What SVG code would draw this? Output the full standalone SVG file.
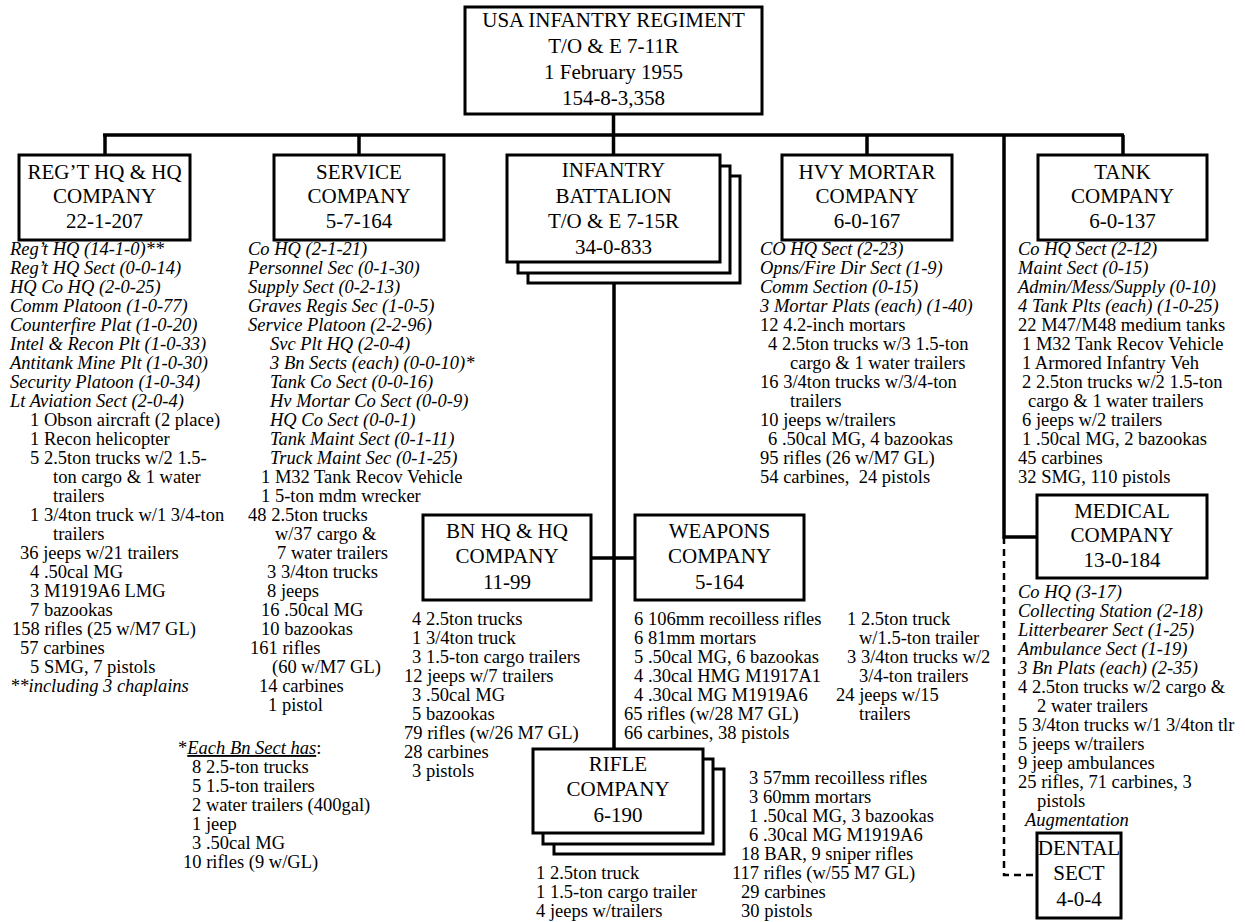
<svg xmlns="http://www.w3.org/2000/svg" width="1245" height="922" viewBox="0 0 1245 922">
<style>
.box{fill:#fff;stroke:#000;stroke-width:3}
.t{font-family:"Liberation Serif","Times New Roman",serif;font-size:21px;text-anchor:middle;fill:#000}
.l{font-family:"Liberation Serif","Times New Roman",serif;font-size:18.5px;fill:#000}
.i{font-style:italic}
.c{stroke:#000;stroke-width:3.5;fill:none}
.d{stroke:#000;stroke-width:2.5;fill:none;stroke-dasharray:7 5}
</style>
<rect width="1245" height="922" fill="#fff"/>
<g id="connectors">
<path class="c" d="M613.5,114V155M103,135H1124M105,135V155M359,135V155M867,135V155M1123,135V155M1004,135V537H1037M614,283V749M591,558H635"/>
<path class="d" d="M1004,537V875H1037"/>
</g>
<g id="regiment">
<rect class="box" x="465" y="7" width="297" height="107"/>
<text class="t" x="613.5" y="27">USA INFANTRY REGIMENT</text>
<text class="t" x="613.5" y="53">T/O &amp; E 7-11R</text>
<text class="t" x="613.5" y="79">1 February 1955</text>
<text class="t" x="613.5" y="105">154-8-3,358</text>
</g>
<g id="hq-company">
<rect class="box" x="19" y="155" width="171" height="85"/>
<text class="t" x="104.5" y="179">REG’T HQ &amp; HQ</text>
<text class="t" x="104.5" y="203">COMPANY</text>
<text class="t" x="104.5" y="228">22-1-207</text>
<text class="l i" x="10" y="255">Reg’t HQ (14-1-0)**</text>
<text class="l i" x="10" y="274">Reg’t HQ Sect (0-0-14)</text>
<text class="l i" x="10" y="293">HQ Co HQ (2-0-25)</text>
<text class="l i" x="10" y="312">Comm Platoon (1-0-77)</text>
<text class="l i" x="10" y="331">Counterfire Plat (1-0-20)</text>
<text class="l i" x="10" y="350">Intel &amp; Recon Plt (1-0-33)</text>
<text class="l i" x="10" y="369">Antitank Mine Plt (1-0-30)</text>
<text class="l i" x="10" y="388">Security Platoon (1-0-34)</text>
<text class="l i" x="10" y="407">Lt Aviation Sect (2-0-4)</text>
<text class="l" x="30" y="426">1 Obson aircraft (2 place)</text>
<text class="l" x="30" y="445">1 Recon helicopter</text>
<text class="l" x="30" y="464">5 2.5ton trucks w/2 1.5-</text>
<text class="l" x="53" y="483">ton cargo &amp; 1 water</text>
<text class="l" x="53" y="502">trailers</text>
<text class="l" x="30" y="521">1 3/4ton truck w/1 3/4-ton</text>
<text class="l" x="53" y="540">trailers</text>
<text class="l" x="20" y="559">36 jeeps w/21 trailers</text>
<text class="l" x="30" y="578">4 .50cal MG</text>
<text class="l" x="30" y="597">3 M1919A6 LMG</text>
<text class="l" x="30" y="616">7 bazookas</text>
<text class="l" x="12" y="635">158 rifles (25 w/M7 GL)</text>
<text class="l" x="20" y="654">57 carbines</text>
<text class="l" x="30" y="673">5 SMG, 7 pistols</text>
<text class="l i" x="10" y="692">**including 3 chaplains</text>
</g>
<g id="service-company">
<rect class="box" x="274" y="155" width="170" height="85"/>
<text class="t" x="359" y="179">SERVICE</text>
<text class="t" x="359" y="203">COMPANY</text>
<text class="t" x="359" y="228">5-7-164</text>
<text class="l i" x="248" y="255">Co HQ (2-1-21)</text>
<text class="l i" x="248" y="274">Personnel Sec (0-1-30)</text>
<text class="l i" x="248" y="293">Supply Sect (0-2-13)</text>
<text class="l i" x="248" y="312">Graves Regis Sec (1-0-5)</text>
<text class="l i" x="248" y="331">Service Platoon (2-2-96)</text>
<text class="l i" x="270" y="350">Svc Plt HQ (2-0-4)</text>
<text class="l i" x="270" y="369">3 Bn Sects (each) (0-0-10)*</text>
<text class="l i" x="270" y="388">Tank Co Sect (0-0-16)</text>
<text class="l i" x="270" y="407">Hv Mortar Co Sect (0-0-9)</text>
<text class="l i" x="270" y="426">HQ Co Sect (0-0-1)</text>
<text class="l i" x="270" y="445">Tank Maint Sect (0-1-11)</text>
<text class="l i" x="270" y="464">Truck Maint Sec (0-1-25)</text>
<text class="l" x="261" y="483">1 M32 Tank Recov Vehicle</text>
<text class="l" x="261" y="502">1 5-ton mdm wrecker</text>
<text class="l" x="248" y="521">48 2.5ton trucks</text>
<text class="l" x="275" y="540">w/37 cargo &amp;</text>
<text class="l" x="277" y="559">7 water trailers</text>
<text class="l" x="267" y="578">3 3/4ton trucks</text>
<text class="l" x="267" y="597">8 jeeps</text>
<text class="l" x="261" y="616">16 .50cal MG</text>
<text class="l" x="261" y="635">10 bazookas</text>
<text class="l" x="250" y="654">161 rifles</text>
<text class="l" x="272" y="673">(60 w/M7 GL)</text>
<text class="l" x="259" y="692">14 carbines</text>
<text class="l" x="268" y="711">1 pistol</text>
</g>
<g id="bn-sect-note">
<text class="l" x="178" y="754">*<tspan class="i" text-decoration="underline">Each Bn Sect has</tspan>:</text>
<text class="l" x="192" y="773">8 2.5-ton trucks</text>
<text class="l" x="192" y="792">5 1.5-ton trailers</text>
<text class="l" x="192" y="811">2 water trailers (400gal)</text>
<text class="l" x="192" y="830">1 jeep</text>
<text class="l" x="192" y="849">3 .50cal MG</text>
<text class="l" x="183" y="868">10 rifles (9 w/GL)</text>
</g>
<g id="infantry-battalion">
<rect class="box" x="528" y="176" width="212" height="107"/>
<rect class="box" x="518" y="166" width="212" height="107"/>
<rect class="box" x="507" y="155" width="213" height="107"/>
<text class="t" x="613.5" y="177">INFANTRY</text>
<text class="t" x="613.5" y="203">BATTALION</text>
<text class="t" x="613.5" y="228">T/O &amp; E 7-15R</text>
<text class="t" x="613.5" y="254">34-0-833</text>
</g>
<g id="hvy-mortar-company">
<rect class="box" x="782" y="155" width="170" height="85"/>
<text class="t" x="867" y="179">HVY MORTAR</text>
<text class="t" x="867" y="203">COMPANY</text>
<text class="t" x="867" y="228">6-0-167</text>
<text class="l i" x="760" y="255">CO HQ Sect (2-23)</text>
<text class="l i" x="760" y="274">Opns/Fire Dir Sect (1-9)</text>
<text class="l i" x="760" y="293">Comm Section (0-15)</text>
<text class="l i" x="760" y="312">3 Mortar Plats (each) (1-40)</text>
<text class="l" x="760" y="331">12 4.2-inch mortars</text>
<text class="l" x="768" y="350">4 2.5ton trucks w/3 1.5-ton</text>
<text class="l" x="790" y="369">cargo &amp; 1 water trailers</text>
<text class="l" x="760" y="388">16 3/4ton trucks w/3/4-ton</text>
<text class="l" x="790" y="407">trailers</text>
<text class="l" x="760" y="426">10 jeeps w/trailers</text>
<text class="l" x="768" y="445">6 .50cal MG, 4 bazookas</text>
<text class="l" x="760" y="464">95 rifles (26 w/M7 GL)</text>
<text class="l" x="760" y="483" xml:space="preserve">54 carbines,  24 pistols</text>
</g>
<g id="tank-company">
<rect class="box" x="1038" y="155" width="169" height="85"/>
<text class="t" x="1122.5" y="179">TANK</text>
<text class="t" x="1122.5" y="203">COMPANY</text>
<text class="t" x="1122.5" y="228">6-0-137</text>
<text class="l i" x="1018" y="255">Co HQ Sect (2-12)</text>
<text class="l i" x="1018" y="274">Maint Sect (0-15)</text>
<text class="l i" x="1018" y="293">Admin/Mess/Supply (0-10)</text>
<text class="l i" x="1018" y="312">4 Tank Plts (each) (1-0-25)</text>
<text class="l" x="1018" y="331">22 M47/M48 medium tanks</text>
<text class="l" x="1022" y="350">1 M32 Tank Recov Vehicle</text>
<text class="l" x="1022" y="369">1 Armored Infantry Veh</text>
<text class="l" x="1022" y="388">2 2.5ton trucks w/2 1.5-ton</text>
<text class="l" x="1028" y="407">cargo &amp; 1 water trailers</text>
<text class="l" x="1022" y="426">6 jeeps w/2 trailers</text>
<text class="l" x="1022" y="445">1 .50cal MG, 2 bazookas</text>
<text class="l" x="1018" y="464">45 carbines</text>
<text class="l" x="1018" y="483">32 SMG, 110 pistols</text>
</g>
<g id="medical-company">
<rect class="box" x="1037" y="495" width="170" height="83"/>
<text class="t" x="1122" y="518">MEDICAL</text>
<text class="t" x="1122" y="542">COMPANY</text>
<text class="t" x="1122" y="567">13-0-184</text>
<text class="l i" x="1018" y="598">Co HQ (3-17)</text>
<text class="l i" x="1018" y="617">Collecting Station (2-18)</text>
<text class="l i" x="1018" y="636">Litterbearer Sect (1-25)</text>
<text class="l i" x="1018" y="655">Ambulance Sect (1-19)</text>
<text class="l i" x="1018" y="674">3 Bn Plats (each) (2-35)</text>
<text class="l" x="1018" y="693">4 2.5ton trucks w/2 cargo &amp;</text>
<text class="l" x="1037" y="712">2 water trailers</text>
<text class="l" x="1018" y="731">5 3/4ton trucks w/1 3/4ton tlr</text>
<text class="l" x="1018" y="750">5 jeeps w/trailers</text>
<text class="l" x="1018" y="769">9 jeep ambulances</text>
<text class="l" x="1018" y="788">25 rifles, 71 carbines, 3</text>
<text class="l" x="1037" y="807">pistols</text>
<text class="l i" x="1025" y="826">Augmentation</text>
</g>
<g id="dental-sect">
<rect class="box" x="1037" y="833" width="84" height="85"/>
<text class="t" x="1079" y="855">DENTAL</text>
<text class="t" x="1079" y="880">SECT</text>
<text class="t" x="1079" y="906">4-0-4</text>
</g>
<g id="bn-hq-company">
<rect class="box" x="423" y="515" width="168" height="85"/>
<text class="t" x="507" y="538">BN HQ &amp; HQ</text>
<text class="t" x="507" y="563">COMPANY</text>
<text class="t" x="507" y="589">11-99</text>
<text class="l" x="412" y="625">4 2.5ton trucks</text>
<text class="l" x="412" y="644">1 3/4ton truck</text>
<text class="l" x="412" y="663">3 1.5-ton cargo trailers</text>
<text class="l" x="404" y="682">12 jeeps w/7 trailers</text>
<text class="l" x="412" y="701">3 .50cal MG</text>
<text class="l" x="412" y="720">5 bazookas</text>
<text class="l" x="404" y="739">79 rifles (w/26 M7 GL)</text>
<text class="l" x="404" y="758">28 carbines</text>
<text class="l" x="412" y="777">3 pistols</text>
</g>
<g id="weapons-company">
<rect class="box" x="635" y="515" width="169" height="85"/>
<text class="t" x="719.5" y="538">WEAPONS</text>
<text class="t" x="719.5" y="563">COMPANY</text>
<text class="t" x="719.5" y="589">5-164</text>
<text class="l" x="634" y="625">6 106mm recoilless rifles</text>
<text class="l" x="634" y="644">6 81mm mortars</text>
<text class="l" x="634" y="663">5 .50cal MG, 6 bazookas</text>
<text class="l" x="634" y="682">4 .30cal HMG M1917A1</text>
<text class="l" x="634" y="701">4 .30cal MG M1919A6</text>
<text class="l" x="624" y="720">65 rifles (w/28 M7 GL)</text>
<text class="l" x="624" y="739">66 carbines, 38 pistols</text>
<text class="l" x="847" y="625">1 2.5ton truck</text>
<text class="l" x="859" y="644">w/1.5-ton trailer</text>
<text class="l" x="847" y="663">3 3/4ton trucks w/2</text>
<text class="l" x="859" y="682">3/4-ton trailers</text>
<text class="l" x="836" y="701">24 jeeps w/15</text>
<text class="l" x="859" y="720">trailers</text>
</g>
<g id="rifle-company">
<rect class="box" x="554" y="769" width="170" height="85"/>
<rect class="box" x="543" y="759" width="170" height="85"/>
<rect class="box" x="533" y="749" width="170" height="84"/>
<text class="t" x="618" y="771">RIFLE</text>
<text class="t" x="618" y="796">COMPANY</text>
<text class="t" x="618" y="822">6-190</text>
<text class="l" x="749" y="784">3 57mm recoilless rifles</text>
<text class="l" x="749" y="803">3 60mm mortars</text>
<text class="l" x="749" y="822">1 .50cal MG, 3 bazookas</text>
<text class="l" x="749" y="841">6 .30cal MG M1919A6</text>
<text class="l" x="741" y="860">18 BAR, 9 sniper rifles</text>
<text class="l" x="732" y="879">117 rifles (w/55 M7 GL)</text>
<text class="l" x="741" y="898">29 carbines</text>
<text class="l" x="741" y="917">30 pistols</text>
<text class="l" x="536" y="879">1 2.5ton truck</text>
<text class="l" x="536" y="898">1 1.5-ton cargo trailer</text>
<text class="l" x="536" y="917">4 jeeps w/trailers</text>
</g>
</svg>
